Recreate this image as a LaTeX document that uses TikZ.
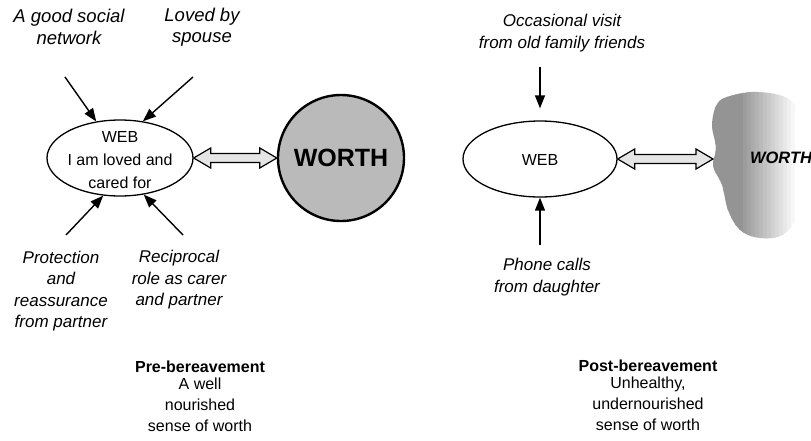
\documentclass[tikz,border=0pt]{standalone}
\usepackage{fontspec}
\setmainfont{Liberation Sans}
\usetikzlibrary{shapes.geometric,arrows.meta,calc}
\begin{document}
\begin{tikzpicture}[x=1pt,y=-1pt,
  lbl/.style={font=\fontsize{17}{21.5}\selectfont\itshape, align=center, inner sep=0pt},
  body/.style={font=\fontsize{16}{21}\selectfont, align=center, inner sep=0pt},
  title/.style={font=\fontsize{16}{21}\selectfont\bfseries, inner sep=0pt},
  webshape/.style={draw, ellipse, line width=1.3pt, minimum width=146pt, minimum height=76pt, inner sep=0pt},
  conn/.style={line width=1.4pt, -{Triangle[length=13pt,width=10pt]}},
  biarrow/.style={draw=black, line width=1.2pt, fill=black!10, line join=miter,
    to path={let \p1=(\tikztostart), \p2=(\tikztotarget) in
      (\x1,\y1) -- (\x1+17pt,\y1+10pt) -- (\x1+17pt,\y1+4.5pt) -- (\x2-17pt,\y1+4.5pt)
      -- (\x2-17pt,\y1+10pt) -- (\x2,\y1) -- (\x2-17pt,\y1-10pt) -- (\x2-17pt,\y1-4.5pt)
      -- (\x1+17pt,\y1-4.5pt) -- (\x1+17pt,\y1-10pt) -- cycle}}
]
\useasboundingbox (0,0) rectangle (811,440);

% ---------- pre-bereavement ----------
\node[webshape] (web1) at (120,158) {};
\node[body, font=\fontsize{16}{23}\selectfont] (web1txt) at (120,160) {WEB\\I am loved and\\cared for};

\node[draw, circle, line width=2.4pt, fill=black!27, minimum size=126pt, inner sep=0pt,
      font=\fontsize{25}{25}\selectfont\bfseries] (worth1) at (341,158) {WORTH};

\draw[biarrow] (web1.east) to (worth1.west);

\node[lbl, font=\fontsize{18.5}{21.5}\selectfont\itshape] (social) at (69,27) {A good social\\network};
\node[lbl, font=\fontsize{18.5}{21.5}\selectfont\itshape] (spouse) at (202,27) {Loved by\\spouse};
\node[lbl] (protect) at (61,291) {Protection\\and\\reassurance\\from partner};
\node[lbl] (recip) at (179,280) {Reciprocal\\role as carer\\and partner};

\coordinate (t1) at (65,77);
\coordinate (t2) at (193,77);
\coordinate (t3) at (66,235);
\coordinate (t4) at (183,235);
\draw[conn] (t1) -- (web1.123);
\draw[conn] (t2) -- (web1.58);
\draw[conn] (t3) -- (web1.-114);
\draw[conn] (t4) -- (web1.-57);

\node[title] (pre) at (200,367) {Pre-bereavement};
\node[body, anchor=north] (prebody) at (200,378) {A well\\nourished\\sense of worth};

% ---------- post-bereavement ----------
\node[webshape, minimum width=154pt] (web2) at (540,159) {};
\node[body] (web2txt) at (540,160) {WEB};

% faded, cloudy sense of worth: grey strips that thin out to the right
\begin{scope}
  \clip plot[smooth cycle, tension=0.6] coordinates {
    (730,96) (758,92) (790,100) (806,130) (809,170) (800,210) (784,234)
    (760,238) (740,230) (728,210) (722,185) (713,166) (716,148) (712,125) (717,104)};
  \foreach \i in {0,...,24} {
    \pgfmathsetmacro\g{max(0,min(42,42*(21-\i)/14))}
    \fill[black!\g] ({711+4*\i},88) rectangle ({715.6+4*\i},242);
  }
\end{scope}
\coordinate (cloudL) at (713,159);
\node[inner sep=0pt, font=\fontsize{16.5}{20}\selectfont\bfseries\itshape] (worth2) at (781,158) {WORTH};

\draw[biarrow] (web2.east) to (cloudL);

\node[lbl] (visit) at (562,33) {Occasional visit\\from old family friends};
\node[lbl] (phone) at (547,277) {Phone calls\\from daughter};

\coordinate (t5) at (540,67);
\coordinate (t6) at (540,245);
\draw[conn, shorten >=12pt] (t5) -- (web2.north);
\draw[conn] (t6) -- (web2.south);

\node[title] (post) at (648,366) {Post-bereavement};
\node[body, anchor=north] (postbody) at (648,377) {Unhealthy,\\undernourished\\sense of worth};
\end{tikzpicture}
\end{document}
